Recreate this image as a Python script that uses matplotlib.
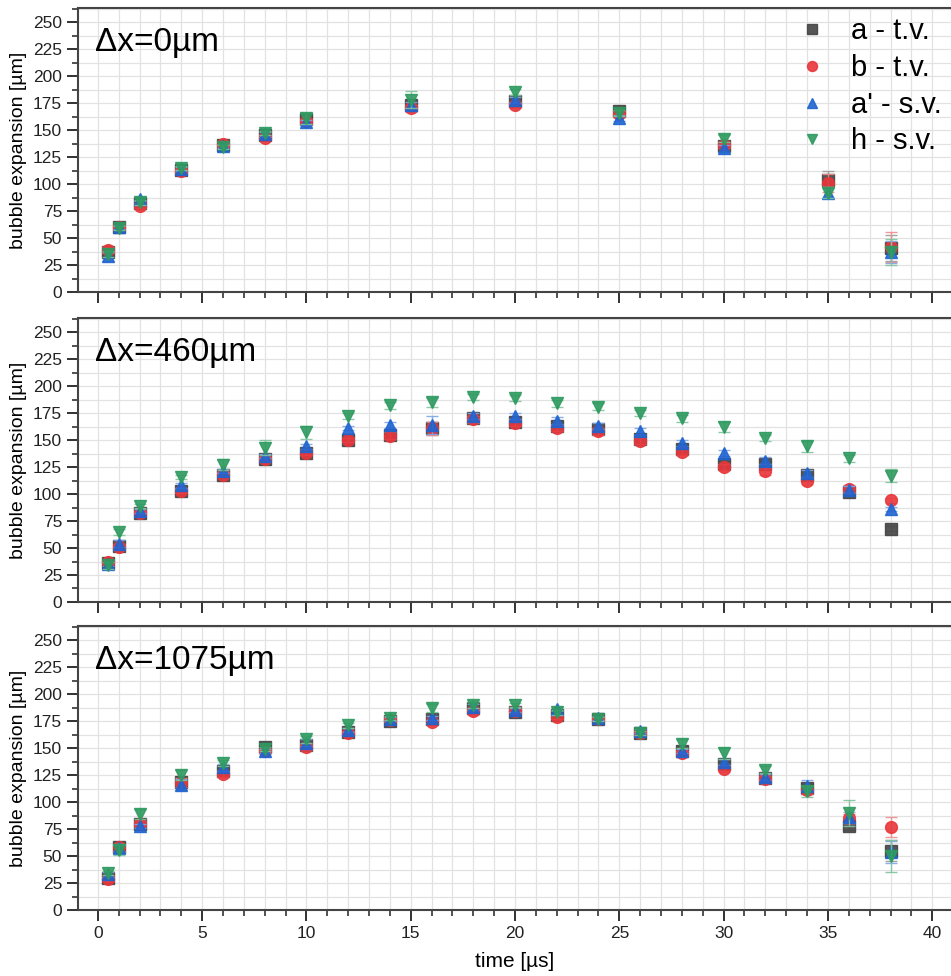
import numpy as np
import matplotlib
matplotlib.use("Agg")
import matplotlib.pyplot as plt
from matplotlib.ticker import MultipleLocator

plt.rcParams['font.family'] = ['Liberation Sans', 'DejaVu Sans']

# time points [us]
t_top = [0.5, 1, 2, 4, 6, 8, 10, 15, 20, 25, 30, 35, 38]
t_mid = [0.5, 1, 2, 4, 6, 8, 10, 12, 14, 16, 18, 20, 22, 24, 26, 28, 30, 32, 34, 36, 38]
t_bot = t_mid

labels = ["a - t.v.", "b - t.v.", "a' - s.v.", "h - s.v."]
panel_titles = ["Δx=0µm", "Δx=460µm", "Δx=1075µm"]

# dx = 0 um
a_top = [37, 60, 82, 113, 136, 145, 160, 173, 177, 168, 135, 104, 41]
b_top = [39, 60, 80, 112, 137, 143, 158, 170, 173, 165, 136, 101, 42]
ap_top = [33, 60, 86, 114, 135, 146, 157, 173, 178, 161, 133, 92, 37]
h_top = [35, 59, 83, 115, 134, 147, 161, 178, 185, 166, 142, 92, 37]
a_top_err = [3, 2, 2, 2, 2, 2, 2, 3, 3, 3, 3, 8, 12]
b_top_err = [3, 2, 2, 2, 2, 2, 2, 3, 3, 3, 3, 8, 14]
ap_top_err = [4, 2, 2, 2, 2, 2, 2, 3, 3, 3, 3, 5, 10]
h_top_err = [3, 2, 2, 2, 2, 2, 5, 8, 3, 3, 3, 5, 12]

# dx = 460 um
a_mid = [36, 52, 82, 103, 118, 132, 138, 150, 155, 161, 170, 167, 163, 160, 151, 142, 128, 128, 118, 102, 68]
b_mid = [37, 51, 82, 103, 118, 132, 138, 150, 154, 161, 169, 166, 161, 158, 149, 139, 125, 121, 112, 105, 94]
ap_mid = [35, 54, 84, 108, 121, 135, 144, 161, 164, 164, 172, 172, 168, 163, 158, 147, 138, 131, 119, 104, 86]
h_mid = [34, 65, 89, 116, 127, 143, 157, 172, 182, 185, 190, 189, 184, 181, 175, 170, 162, 152, 144, 133, 117]
a_mid_err = [2, 3, 2, 2, 2, 2, 2, 2, 3, 6, 3, 3, 3, 3, 3, 3, 3, 3, 3, 3, 2]
b_mid_err = [2, 3, 2, 2, 2, 2, 2, 2, 3, 6, 3, 3, 3, 3, 3, 3, 3, 3, 3, 3, 2]
ap_mid_err = [2, 3, 2, 2, 2, 2, 2, 2, 3, 8, 3, 3, 3, 3, 3, 3, 3, 3, 3, 3, 2]
h_mid_err = [3, 3, 2, 2, 5, 7, 6, 3, 3, 4, 3, 3, 3, 3, 3, 3, 5, 3, 5, 3, 6]

# dx = 1075 um
a_bot = [30, 58, 80, 119, 129, 151, 153, 165, 175, 177, 187, 183, 181, 177, 164, 147, 135, 122, 113, 78, 55]
b_bot = [29, 58, 80, 118, 126, 147, 151, 164, 176, 174, 184, 184, 179, 177, 164, 145, 131, 121, 111, 85, 77]
ap_bot = [33, 57, 78, 116, 132, 147, 155, 167, 177, 178, 188, 185, 186, 178, 166, 147, 137, 123, 115, 86, 54]
h_bot = [34, 56, 89, 125, 136, 149, 158, 171, 178, 187, 190, 190, 183, 177, 164, 154, 145, 130, 110, 90, 50]
a_bot_err = [2, 3, 2, 4, 3, 2, 3, 2, 2, 2, 3, 2, 2, 2, 2, 2, 3, 3, 4, 4, 10]
b_bot_err = [2, 3, 2, 4, 3, 2, 3, 2, 2, 2, 3, 2, 2, 2, 2, 2, 3, 3, 4, 4, 9]
ap_bot_err = [2, 3, 2, 5, 3, 2, 3, 2, 2, 2, 3, 2, 2, 2, 2, 2, 3, 3, 5, 5, 10]
h_bot_err = [2, 5, 5, 5, 3, 2, 3, 2, 2, 4, 3, 2, 2, 2, 2, 4, 5, 3, 5, 12, 15]

panels = [
    (t_top, [a_top, b_top, ap_top, h_top], [a_top_err, b_top_err, ap_top_err, h_top_err]),
    (t_mid, [a_mid, b_mid, ap_mid, h_mid], [a_mid_err, b_mid_err, ap_mid_err, h_mid_err]),
    (t_bot, [a_bot, b_bot, ap_bot, h_bot], [a_bot_err, b_bot_err, ap_bot_err, h_bot_err]),
]

colors = ["#444444", "#e8363b", "#1f64d0", "#2e9a60"]
err_colors = ["#9a9a9a", "#ee8c8e", "#7fa6e6", "#7fc39d"]
markers = ["s", "o", "^", "v"]

fig = plt.figure(figsize=(9.51, 9.76), dpi=100)
bottoms = [0.7008, 0.3832, 0.0676]
axes = [fig.add_axes([0.082, b, 0.918, 0.291]) for b in bottoms]

handles = []
for k, (ax, (t, series, errs)) in enumerate(zip(axes, panels)):
    for s, (y, e) in enumerate(zip(series, errs)):
        cont = ax.errorbar(t, y, yerr=e, fmt=markers[s], color=colors[s], ecolor=err_colors[s],
                           elinewidth=1, capsize=4, capthick=1, markersize=8.5, alpha=0.9,
                           label=labels[s], zorder=3 + s)
        if k == 0:
            handles.append(cont[0])
    ax.set_xlim(-0.95, 40.9)
    ax.set_ylim(0, 263)
    ax.xaxis.set_major_locator(MultipleLocator(5))
    ax.xaxis.set_minor_locator(MultipleLocator(1))
    ax.yaxis.set_major_locator(MultipleLocator(25))
    ax.yaxis.set_minor_locator(MultipleLocator(12.5))
    ax.grid(True, which='both', color='#e2e2e2', linewidth=0.9, zorder=0)
    ax.set_axisbelow(True)
    ax.tick_params(which='major', direction='out', length=8, width=1.3, labelsize=12.5, colors='#222222')
    ax.tick_params(which='minor', direction='out', length=4, width=1.1, colors='#222222')
    for side in ['left', 'top', 'bottom']:
        ax.spines[side].set_color('#444444')
        ax.spines[side].set_linewidth(1.5)
    ax.spines['right'].set_visible(False)
    ax.set_ylabel("bubble expansion [µm]", fontsize=14, labelpad=4)
    ax.text(0.02, 0.88, panel_titles[k], transform=ax.transAxes, fontsize=24,
            va='center', ha='left')
    if k < 2:
        ax.tick_params(axis='x', which='both', labelbottom=False)

axes[2].set_xlabel("time [µs]", fontsize=15, labelpad=8)

leg = axes[0].legend(handles, labels, loc='upper right', bbox_to_anchor=(1.02, 1.06), frameon=False,
                     fontsize=21, handletextpad=0.6, labelspacing=0.3, markerscale=0.85,
                     handlelength=1.5)

fig.savefig("out.png", dpi=100)
